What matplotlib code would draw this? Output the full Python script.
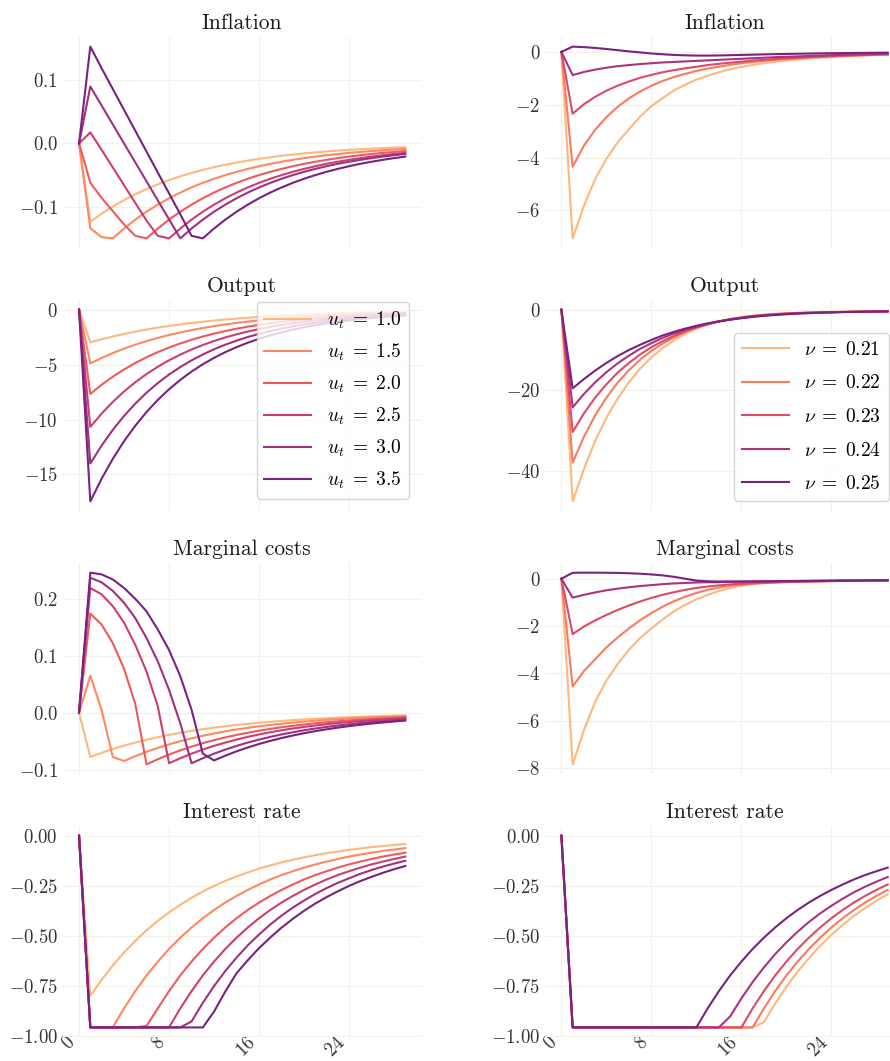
import numpy as np
import matplotlib
matplotlib.use('Agg')
import matplotlib.pyplot as plt

plt.rcParams['font.family'] = 'serif'
plt.rcParams['font.serif'] = ['cmr10']
plt.rcParams['mathtext.fontset'] = 'cm'
plt.rcParams['axes.formatter.use_mathtext'] = True
plt.rcParams['axes.unicode_minus'] = True

# horizon
periods = np.arange(30)
x_ticks = [0, 8, 16, 24]

# left column: shock size u_t
u_values = [1.0, 1.5, 2.0, 2.5, 3.0, 3.5]
# right column: parameter nu
nu_values = [0.21, 0.22, 0.23, 0.24, 0.25]

titles = ['Inflation', 'Output', 'Marginal costs', 'Interest rate']

# ---- left column ----
inflation_u = [
    [0, -0.124, -0.111, -0.0998, -0.0895, -0.0803, -0.0720, -0.0646, -0.0579, -0.0520, -0.0466, -0.0418, -0.0375, -0.0336, -0.0302,
     -0.0271, -0.0243, -0.0218, -0.0195, -0.0175, -0.0157, -0.0141, -0.0126, -0.0113, -0.0102, -0.0091, -0.0082, -0.0073, -0.0066, -0.0059],
    [0, -0.134, -0.148, -0.150, -0.1344, -0.1204, -0.1079, -0.0967, -0.0866, -0.0776, -0.0695, -0.0623, -0.0558, -0.0500, -0.0448,
     -0.0402, -0.0360, -0.0322, -0.0289, -0.0259, -0.0232, -0.0208, -0.0186, -0.0167, -0.0149, -0.0134, -0.0120, -0.0107, -0.0096, -0.0086],
    [0, -0.062, -0.086, -0.107, -0.128, -0.146, -0.150, -0.1344, -0.1204, -0.1079, -0.0967, -0.0866, -0.0776, -0.0695, -0.0623,
     -0.0558, -0.0500, -0.0448, -0.0402, -0.0360, -0.0322, -0.0289, -0.0259, -0.0232, -0.0208, -0.0186, -0.0167, -0.0149, -0.0134, -0.0120],
    [0, 0.0175, -0.010, -0.038, -0.066, -0.094, -0.122, -0.146, -0.150, -0.1344, -0.1204, -0.1079, -0.0967, -0.0866, -0.0776,
     -0.0695, -0.0623, -0.0558, -0.0500, -0.0448, -0.0402, -0.0360, -0.0322, -0.0289, -0.0259, -0.0232, -0.0208, -0.0186, -0.0167, -0.0149],
    [0, 0.090, 0.060, 0.030, 0.000, -0.030, -0.060, -0.090, -0.120, -0.150, -0.1344, -0.1204, -0.1079, -0.0967, -0.0866,
     -0.0776, -0.0695, -0.0623, -0.0558, -0.0500, -0.0448, -0.0402, -0.0360, -0.0322, -0.0289, -0.0259, -0.0232, -0.0208, -0.0186, -0.0167],
    [0, 0.153, 0.119, 0.086, 0.053, 0.020, -0.013, -0.046, -0.079, -0.112, -0.146, -0.150, -0.1344, -0.1204, -0.1079,
     -0.0967, -0.0866, -0.0776, -0.0695, -0.0623, -0.0558, -0.0500, -0.0448, -0.0402, -0.0360, -0.0322, -0.0289, -0.0259, -0.0232, -0.0208],
]

output_u = [
    [0, -2.98, -2.697, -2.441, -2.209, -1.999, -1.809, -1.637, -1.482, -1.341, -1.214, -1.098, -0.994, -0.900, -0.814,
     -0.737, -0.667, -0.603, -0.546, -0.494, -0.447, -0.405, -0.366, -0.331, -0.300, -0.271, -0.246, -0.222, -0.201, -0.182],
    [0, -4.9, -4.400, -3.951, -3.548, -3.186, -2.861, -2.570, -2.307, -2.072, -1.861, -1.671, -1.501, -1.348, -1.210,
     -1.087, -0.976, -0.876, -0.787, -0.707, -0.635, -0.570, -0.512, -0.459, -0.413, -0.370, -0.333, -0.299, -0.268, -0.241],
    [0, -7.67, -6.842, -6.103, -5.444, -4.856, -4.332, -3.864, -3.447, -3.075, -2.743, -2.446, -2.182, -1.947, -1.736,
     -1.549, -1.382, -1.232, -1.099, -0.981, -0.875, -0.780, -0.696, -0.621, -0.554, -0.494, -0.441, -0.393, -0.351, -0.313],
    [0, -10.67, -9.464, -8.395, -7.446, -6.605, -5.859, -5.197, -4.609, -4.089, -3.627, -3.217, -2.853, -2.531, -2.245,
     -1.991, -1.766, -1.567, -1.390, -1.233, -1.093, -0.970, -0.860, -0.763, -0.677, -0.600, -0.532, -0.472, -0.419, -0.372],
    [0, -14.0, -12.376, -10.940, -9.671, -8.549, -7.558, -6.681, -5.906, -5.221, -4.615, -4.080, -3.607, -3.188, -2.818,
     -2.492, -2.203, -1.947, -1.721, -1.522, -1.345, -1.189, -1.051, -0.929, -0.821, -0.726, -0.642, -0.567, -0.502, -0.443],
    [0, -17.45, -15.391, -13.575, -11.973, -10.560, -9.314, -8.215, -7.246, -6.391, -5.637, -4.972, -4.385, -3.868, -3.411,
     -3.009, -2.654, -2.341, -2.064, -1.821, -1.606, -1.416, -1.249, -1.102, -0.972, -0.857, -0.756, -0.667, -0.588, -0.519],
]

mc_u = [
    [0, -0.078, -0.0707, -0.0640, -0.0580, -0.0526, -0.0476, -0.0432, -0.0391, -0.0354, -0.0321, -0.0291, -0.0263, -0.0239, -0.0216,
     -0.0196, -0.0178, -0.0161, -0.0146, -0.0132, -0.0120, -0.0108, -0.0098, -0.0089, -0.0081, -0.0073, -0.0066, -0.0060, -0.0054, -0.0049],
    [0, 0.065, 0.005, -0.078, -0.085, -0.0765, -0.0689, -0.0620, -0.0558, -0.0502, -0.0452, -0.0407, -0.0366, -0.0329, -0.0296,
     -0.0267, -0.0240, -0.0216, -0.0194, -0.0175, -0.0157, -0.0142, -0.0127, -0.0115, -0.0103, -0.0093, -0.0084, -0.0075, -0.0068, -0.0061],
    [0, 0.174, 0.155, 0.122, 0.077, 0.015, -0.091, -0.0819, -0.0737, -0.0663, -0.0597, -0.0537, -0.0484, -0.0435, -0.0392,
     -0.0353, -0.0317, -0.0286, -0.0257, -0.0231, -0.0208, -0.0187, -0.0169, -0.0152, -0.0137, -0.0123, -0.0111, -0.0100, -0.0090, -0.0081],
    [0, 0.219, 0.208, 0.187, 0.158, 0.119, 0.072, 0.011, -0.089, -0.0801, -0.0721, -0.0649, -0.0584, -0.0526, -0.0473,
     -0.0426, -0.0383, -0.0345, -0.0310, -0.0279, -0.0251, -0.0226, -0.0204, -0.0183, -0.0165, -0.0149, -0.0134, -0.0120, -0.0108, -0.0097],
    [0, 0.237, 0.229, 0.214, 0.193, 0.166, 0.131, 0.090, 0.040, -0.019, -0.089, -0.0801, -0.0721, -0.0649, -0.0584,
     -0.0526, -0.0473, -0.0426, -0.0383, -0.0345, -0.0310, -0.0279, -0.0251, -0.0226, -0.0204, -0.0183, -0.0165, -0.0149, -0.0134, -0.0120],
    [0, 0.246, 0.243, 0.234, 0.219, 0.200, 0.178, 0.146, 0.110, 0.064, 0.005, -0.072, -0.084, -0.0756, -0.0680,
     -0.0612, -0.0551, -0.0496, -0.0446, -0.0402, -0.0362, -0.0325, -0.0293, -0.0264, -0.0237, -0.0214, -0.0192, -0.0173, -0.0156, -0.0140],
]

rate_u = [
    [0, -0.798, -0.718, -0.646, -0.582, -0.524, -0.471, -0.424, -0.382, -0.344, -0.309, -0.278, -0.250, -0.225, -0.203,
     -0.183, -0.164, -0.148, -0.133, -0.120, -0.108, -0.097, -0.087, -0.079, -0.071, -0.064, -0.057, -0.052, -0.046, -0.042],
    [0, -0.955, -0.955, -0.955, -0.860, -0.774, -0.696, -0.627, -0.564, -0.508, -0.457, -0.411, -0.370, -0.333, -0.300,
     -0.270, -0.243, -0.218, -0.196, -0.177, -0.159, -0.143, -0.129, -0.116, -0.104, -0.094, -0.085, -0.076, -0.069, -0.062],
    [0, -0.955, -0.955, -0.955, -0.955, -0.955, -0.947, -0.860, -0.774, -0.696, -0.627, -0.564, -0.508, -0.457, -0.411,
     -0.370, -0.333, -0.300, -0.270, -0.243, -0.218, -0.196, -0.177, -0.159, -0.143, -0.129, -0.116, -0.104, -0.094, -0.085],
    [0, -0.955, -0.955, -0.955, -0.955, -0.955, -0.955, -0.955, -0.955, -0.860, -0.774, -0.696, -0.627, -0.564, -0.508,
     -0.457, -0.411, -0.370, -0.333, -0.300, -0.270, -0.243, -0.218, -0.196, -0.177, -0.159, -0.143, -0.129, -0.116, -0.104],
    [0, -0.955, -0.955, -0.955, -0.955, -0.955, -0.955, -0.955, -0.955, -0.955, -0.925, -0.8325, -0.749, -0.674, -0.607,
     -0.546, -0.492, -0.442, -0.398, -0.358, -0.323, -0.290, -0.261, -0.235, -0.212, -0.190, -0.171, -0.154, -0.139, -0.125],
    [0, -0.955, -0.955, -0.955, -0.955, -0.955, -0.955, -0.955, -0.955, -0.955, -0.955, -0.955, -0.876, -0.776, -0.685,
     -0.620, -0.560, -0.507, -0.458, -0.414, -0.374, -0.338, -0.306, -0.277, -0.250, -0.226, -0.205, -0.185, -0.167, -0.151],
]

# ---- right column ----
inflation_nu = [
    [0, -7.06, -5.83, -4.82, -4.05, -3.42, -2.93, -2.45, -2.05, -1.75, -1.46, -1.24, -1.05, -0.90, -0.77,
     -0.66, -0.57, -0.49, -0.43, -0.37, -0.33, -0.29, -0.25, -0.22, -0.20, -0.17, -0.15, -0.14, -0.12, -0.11],
    [0, -4.35, -3.55, -2.95, -2.47, -2.08, -1.76, -1.50, -1.28, -1.10, -0.95, -0.83, -0.72, -0.63, -0.56,
     -0.49, -0.43, -0.38, -0.34, -0.30, -0.27, -0.24, -0.21, -0.19, -0.17, -0.15, -0.14, -0.12, -0.11, -0.10],
    [0, -2.34, -1.98, -1.70, -1.47, -1.28, -1.12, -0.98, -0.87, -0.77, -0.69, -0.62, -0.56, -0.50, -0.45,
     -0.41, -0.37, -0.33, -0.30, -0.27, -0.24, -0.22, -0.20, -0.18, -0.16, -0.14, -0.13, -0.11, -0.10, -0.09],
    [0, -0.88, -0.76, -0.67, -0.60, -0.54, -0.50, -0.46, -0.43, -0.40, -0.38, -0.36, -0.34, -0.32, -0.30,
     -0.28, -0.26, -0.24, -0.22, -0.20, -0.185, -0.17, -0.155, -0.14, -0.125, -0.11, -0.10, -0.09, -0.08, -0.07],
    [0, 0.20, 0.18, 0.15, 0.11, 0.065, 0.02, -0.02, -0.06, -0.09, -0.115, -0.13, -0.14, -0.14, -0.135,
     -0.125, -0.115, -0.105, -0.095, -0.085, -0.077, -0.07, -0.063, -0.056, -0.05, -0.045, -0.04, -0.036, -0.032, -0.028],
]

output_nu = [
    [0, -47.5, -39.5, -32.5, -26.8, -22.0, -18.0, -14.6, -11.8, -9.5, -7.6, -6.0, -4.7, -3.7, -2.9,
     -2.3, -1.85, -1.5, -1.25, -1.05, -0.9, -0.8, -0.72, -0.65, -0.6, -0.55, -0.5, -0.46, -0.43, -0.4],
    [0, -37.9, -31.5, -26.2, -21.8, -18.1, -15.0, -12.4, -10.2, -8.4, -6.9, -5.6, -4.5, -3.6, -2.9,
     -2.35, -1.9, -1.55, -1.3, -1.1, -0.95, -0.83, -0.74, -0.67, -0.61, -0.56, -0.51, -0.47, -0.44, -0.41],
    [0, -30.3, -25.7, -21.8, -18.5, -15.6, -13.2, -11.1, -9.3, -7.8, -6.5, -5.3, -4.4, -3.6, -2.95,
     -2.4, -1.98, -1.62, -1.35, -1.14, -0.98, -0.86, -0.76, -0.68, -0.62, -0.57, -0.52, -0.48, -0.45, -0.42],
    [0, -24.2, -20.9, -18.0, -15.5, -13.3, -11.4, -9.7, -8.3, -7.0, -5.9, -5.0, -4.2, -3.5, -2.9,
     -2.45, -2.05, -1.72, -1.45, -1.23, -1.06, -0.92, -0.81, -0.72, -0.65, -0.59, -0.54, -0.5, -0.46, -0.43],
    [0, -19.5, -17.2, -15.1, -13.2, -11.5, -10.0, -8.7, -7.5, -6.4, -5.5, -4.7, -4.0, -3.4, -2.9,
     -2.5, -2.12, -1.8, -1.54, -1.32, -1.14, -0.99, -0.87, -0.77, -0.69, -0.62, -0.56, -0.51, -0.47, -0.44],
]

mc_nu = [
    [0, -7.84, -6.4, -5.2, -4.3, -3.6, -3.0, -2.5, -2.1, -1.72, -1.38, -1.1, -0.87, -0.68, -0.52,
     -0.39, -0.30, -0.23, -0.19, -0.16, -0.14, -0.13, -0.12, -0.11, -0.10, -0.095, -0.09, -0.085, -0.08, -0.075],
    [0, -4.55, -3.9, -3.4, -2.9, -2.48, -2.1, -1.75, -1.45, -1.18, -0.95, -0.76, -0.6, -0.47, -0.37,
     -0.3, -0.25, -0.21, -0.18, -0.16, -0.14, -0.13, -0.12, -0.11, -0.10, -0.095, -0.09, -0.085, -0.08, -0.075],
    [0, -2.34, -2.02, -1.76, -1.53, -1.32, -1.13, -0.96, -0.81, -0.68, -0.57, -0.47, -0.39, -0.33, -0.28,
     -0.24, -0.21, -0.19, -0.17, -0.15, -0.14, -0.13, -0.12, -0.11, -0.10, -0.095, -0.09, -0.085, -0.08, -0.075],
    [0, -0.80, -0.68, -0.58, -0.49, -0.42, -0.36, -0.31, -0.27, -0.23, -0.2, -0.18, -0.16, -0.15, -0.14,
     -0.13, -0.125, -0.12, -0.115, -0.11, -0.105, -0.1, -0.095, -0.09, -0.085, -0.08, -0.077, -0.074, -0.071, -0.068],
    [0, 0.25, 0.255, 0.255, 0.25, 0.245, 0.23, 0.21, 0.18, 0.14, 0.08, 0.0, -0.08, -0.11, -0.12,
     -0.12, -0.12, -0.115, -0.11, -0.105, -0.1, -0.095, -0.09, -0.085, -0.08, -0.077, -0.074, -0.071, -0.068, -0.065],
]

rate_nu = [
    [0, -0.955, -0.955, -0.955, -0.955, -0.955, -0.955, -0.955, -0.955, -0.955, -0.955, -0.955, -0.955, -0.955, -0.955,
     -0.955, -0.955, -0.955, -0.929, -0.836, -0.752, -0.677, -0.610, -0.549, -0.494, -0.444, -0.400, -0.360, -0.324, -0.292],
    [0, -0.955, -0.955, -0.955, -0.955, -0.955, -0.955, -0.955, -0.955, -0.955, -0.955, -0.955, -0.955, -0.955, -0.955,
     -0.955, -0.955, -0.955, -0.860, -0.774, -0.696, -0.627, -0.564, -0.508, -0.457, -0.411, -0.370, -0.333, -0.300, -0.270],
    [0, -0.955, -0.955, -0.955, -0.955, -0.955, -0.955, -0.955, -0.955, -0.955, -0.955, -0.955, -0.955, -0.955, -0.955,
     -0.955, -0.955, -0.860, -0.774, -0.696, -0.627, -0.564, -0.508, -0.457, -0.411, -0.370, -0.333, -0.300, -0.270, -0.243],
    [0, -0.955, -0.955, -0.955, -0.955, -0.955, -0.955, -0.955, -0.955, -0.955, -0.955, -0.955, -0.955, -0.955, -0.955,
     -0.900, -0.810, -0.729, -0.656, -0.590, -0.531, -0.478, -0.430, -0.387, -0.349, -0.314, -0.282, -0.254, -0.229, -0.206],
    [0, -0.955, -0.955, -0.955, -0.955, -0.955, -0.955, -0.955, -0.955, -0.955, -0.955, -0.955, -0.955, -0.860, -0.774,
     -0.696, -0.627, -0.564, -0.508, -0.457, -0.411, -0.370, -0.333, -0.300, -0.270, -0.243, -0.218, -0.196, -0.177, -0.159],
]

yticks_left = [[-0.1, 0.0, 0.1], [-15, -10, -5, 0], [-0.1, 0.0, 0.1, 0.2], [-1.0, -0.75, -0.5, -0.25, 0.0]]
yticks_right = [[-6, -4, -2, 0], [-40, -20, 0], [-8, -6, -4, -2, 0], [-1.0, -0.75, -0.5, -0.25, 0.0]]

colors_u = plt.cm.magma(np.linspace(0.85, 0.35, len(u_values)))
colors_nu = plt.cm.magma(np.linspace(0.85, 0.35, len(nu_values)))

fig, axes = plt.subplots(4, 2, figsize=(8.9, 10.61), dpi=100, sharex=True)
fig.subplots_adjust(left=0.0705, right=1.0157, top=0.9651, bottom=0.0226, wspace=0.344, hspace=0.247)

left_data = [inflation_u, output_u, mc_u, rate_u]
right_data = [inflation_nu, output_nu, mc_nu, rate_nu]

for row in range(4):
    axl = axes[row, 0]
    axr = axes[row, 1]
    for i, u in enumerate(u_values):
        axl.plot(periods, left_data[row][i], color=colors_u[i], lw=1.5,
                 label=r'$u_t \;=\; %.1f$' % u)
    for i, nu in enumerate(nu_values):
        axr.plot(periods, right_data[row][i], color=colors_nu[i], lw=1.5,
                 label=r'$\nu \;=\; %.2f$' % nu)
    axl.set_yticks(yticks_left[row])
    axr.set_yticks(yticks_right[row])
    for ax in (axl, axr):
        ax.set_title(titles[row], fontsize=15.5, color='0.1', pad=5.5)
        ax.grid(True, color='#f4f1e6', lw=0.9)
        ax.set_axisbelow(True)
        for s in ax.spines.values():
            s.set_visible(False)
        ax.tick_params(length=0, labelsize=13.5, labelcolor='0.2')

axes[3, 0].set_xticks(x_ticks)
for ax in axes[3]:
    ax.tick_params(axis='x', pad=-2.5)
    plt.setp(ax.get_xticklabels(), rotation=45, ha='right')

axes[1, 0].legend(loc='upper right', bbox_to_anchor=(0.965, 0.99), borderaxespad=0,
                  fontsize=14, handlelength=2.4, labelspacing=0.55)
axes[1, 1].legend(loc='lower right', bbox_to_anchor=(0.958, 0.048), borderaxespad=0,
                  fontsize=14, handlelength=2.4, labelspacing=0.8)

fig.savefig('out.png', dpi=100)
